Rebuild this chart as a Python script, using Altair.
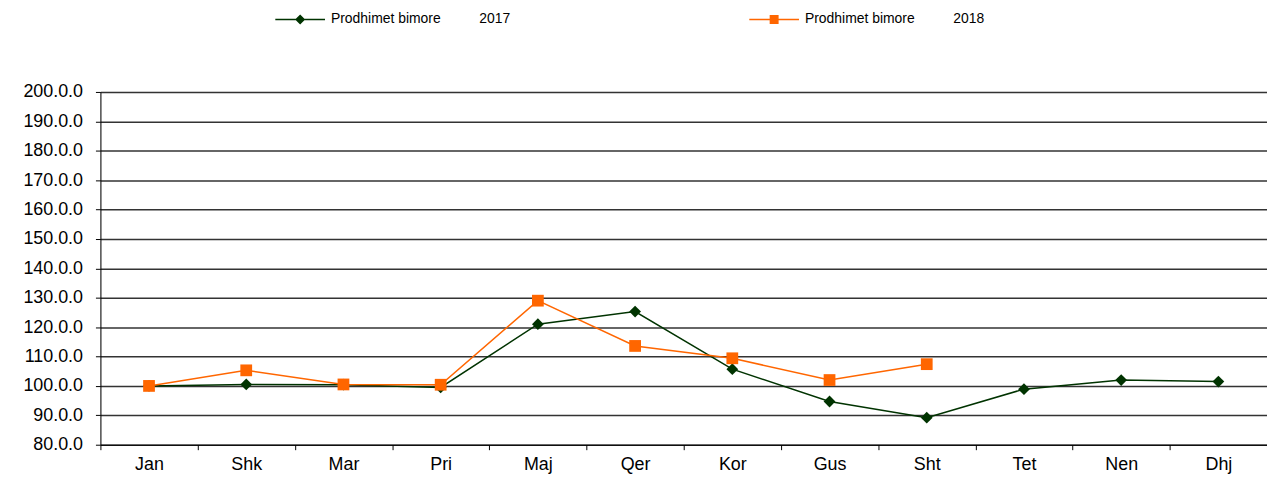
import altair as alt
import pandas as pd

months = ["Jan", "Shk", "Mar", "Pri", "Maj", "Qer", "Kor", "Gus", "Sht", "Tet", "Nen", "Dhj"]
v2017 = [100.0, 100.5, 100.4, 99.5, 121.0, 125.3, 105.7, 94.7, 89.2, 98.9, 102.0, 101.5]
v2018 = [100.0, 105.3, 100.5, 100.4, 129.0, 113.6, 109.4, 102.0, 107.4]
nb = "\u00a0"
series_names = ["Prodhimet bimore" + nb * 10 + "2017", "Prodhimet bimore" + nb * 10 + "2018"]
y_ticks = list(range(80, 201, 10))

rows = []
for m, v in zip(months, v2017):
    rows.append({"month": m, "series": series_names[0], "value": v})
for m, v in zip(months, v2018):
    rows.append({"month": m, "series": series_names[1], "value": v})
df = pd.DataFrame(rows)

colors = ["#003300", "#FF6600"]
shapes = ["diamond", "square"]
sizes = [140, 140]
legend_shapes = [
    "M-5,0H5M0,-0.8L0.8,0L0,0.8L-0.8,0Z",
    "M-5,0H5M-0.75,-0.75H0.75V0.75H-0.75Z",
]

FONT = "Liberation Sans"

x_enc = alt.X(
    "month:N",
    sort=months,
    scale=alt.Scale(type="band", paddingInner=0, paddingOuter=0),
    axis=alt.Axis(
        title=None, labelAngle=0, tickBand="extent", tickSize=5, tickColor="black",
        domainColor="black", labelFont=FONT, labelFontSize=18, labelColor="black",
        labelPadding=6, grid=False,
    ),
)
y_enc = alt.Y(
    "value:Q",
    scale=alt.Scale(domain=[80, 200], nice=False, zero=False),
    axis=alt.Axis(
        title=None, values=y_ticks, labelExpr="datum.value + '.0.0'", tickSize=5,
        tickColor="black", domainColor="black", gridColor="#333333", gridWidth=1.5,
        labelFont=FONT, labelFontSize=18, labelColor="black", labelPadding=13,
    ),
)

color_scale = alt.Scale(domain=series_names, range=colors)

lines = alt.Chart(df).mark_line(strokeWidth=1.5).encode(
    x=x_enc, y=y_enc,
    color=alt.Color("series:N", scale=color_scale, legend=None),
)

point_layers = []
for name, col, shp, sz in zip(series_names, colors, shapes, sizes):
    point_layers.append(
        alt.Chart(df).transform_filter(alt.datum.series == name).mark_point(
            filled=True, opacity=1, shape=shp, size=sz, color=col
        ).encode(x=x_enc, y=y_enc)
    )

leg = alt.Legend(
    title=None, orient="none", legendX=194, legendY=-80, direction="horizontal",
    columns=2, columnPadding=237, labelFont=FONT, labelFontSize=14, labelColor="black",
    labelOffset=24, symbolSize=100, symbolStrokeWidth=1.5, padding=0, labelLimit=400,
    symbolOpacity=1,
)

legend_layer = alt.Chart(df).mark_point(filled=True, opacity=0).encode(
    x=x_enc, y=y_enc,
    fill=alt.Fill("series:N", scale=alt.Scale(domain=series_names, range=colors), legend=leg),
    stroke=alt.Stroke("series:N", scale=alt.Scale(domain=series_names, range=colors), legend=leg),
    shape=alt.Shape("series:N", scale=alt.Scale(domain=series_names, range=legend_shapes), legend=leg),
)

chart = alt.layer(legend_layer, lines, *point_layers).properties(
    width=1174, height=355,
    autosize=alt.AutoSizeParams(type="none"),
    padding={"left": 93, "top": 83, "right": 0, "bottom": 30},
).configure_view(stroke=None).configure(background="white")

chart.save("out.html", embed_options={"renderer": "svg", "actions": False})
